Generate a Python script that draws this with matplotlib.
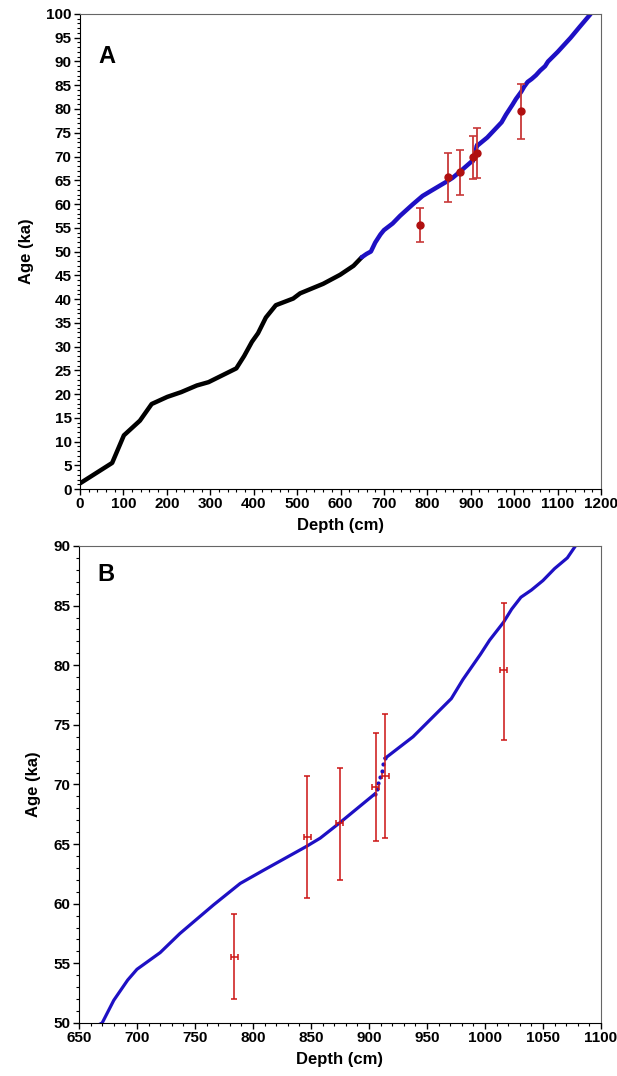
import numpy
import matplotlib
matplotlib.use('Agg')
import matplotlib.pyplot as plt
from matplotlib.ticker import MultipleLocator

plt.rcParams['font.family'] = ['Liberation Sans', 'DejaVu Sans']
plt.rcParams['font.weight'] = 'bold'

# 年龄-深度模型，上段（黑色）
depth_upper = [0, 74, 101, 138, 165, 201, 233, 269, 296, 360, 378, 396, 410,
               428, 451, 491, 507, 560, 599, 630, 649]
age_upper = [1.2, 5.5, 11.3, 14.4, 17.9, 19.4, 20.4, 21.8, 22.5, 25.4, 28.0,
             31.0, 32.8, 36.1, 38.7, 40.1, 41.2, 43.2, 45.1, 47.0, 48.8]

# 下段（蓝色），905-914 cm 为点线过渡
depth_lower = [649, 660, 670, 680, 692, 700, 720, 737, 766, 789, 809, 846,
               858, 875, 905]
age_lower = [48.8, 49.5, 50.0, 51.9, 53.6, 54.5, 55.9, 57.5, 59.9, 61.7, 62.8,
             64.8, 65.5, 66.8, 69.2]
depth_gap = [905, 906.5, 908, 909.5, 911, 912.5, 914]
age_gap = [69.2, 69.6, 70.1, 70.6, 71.1, 71.7, 72.2]
depth_top = [914, 938, 971, 981, 996, 1004, 1016, 1023, 1031, 1040, 1050,
             1060, 1071, 1078, 1100, 1130, 1150, 1176]
age_top = [72.2, 74.0, 77.2, 78.8, 80.9, 82.1, 83.6, 84.7, 85.7, 86.3, 87.1,
           88.1, 89.0, 90.0, 92.0, 95.0, 97.2, 100.0]

# 测年点
date_depth = [784, 847, 875, 906, 914, 1016]
date_age = [55.5, 65.6, 66.8, 69.8, 70.7, 79.6]
age_err_lo = [3.5, 5.1, 4.8, 4.5, 5.2, 5.9]
age_err_hi = [3.6, 5.1, 4.6, 4.5, 5.2, 5.6]
depth_err = [3, 3, 3, 3, 3, 3]

blue = '#1e10c4'
red = '#c01818'


def style_axis(ax, xlim, ylim, xmaj, xmin, ymaj, ymin):
    ax.set_xlim(*xlim)
    ax.set_ylim(*ylim)
    ax.xaxis.set_major_locator(MultipleLocator(xmaj))
    ax.xaxis.set_minor_locator(MultipleLocator(xmin))
    ax.yaxis.set_major_locator(MultipleLocator(ymaj))
    ax.yaxis.set_minor_locator(MultipleLocator(ymin))
    ax.tick_params(which='major', direction='out', length=4, width=1,
                   labelsize=11, pad=2)
    ax.tick_params(which='minor', direction='out', length=2.5, width=0.8)
    for lab in ax.get_xticklabels() + ax.get_yticklabels():
        lab.set_fontweight('bold')
    for s in ['top', 'right']:
        ax.spines[s].set_color('#666666')
    for s in ['left', 'bottom']:
        ax.spines[s].set_color('black')
    ax.set_xlabel('Depth (cm)', fontsize=12, fontweight='bold', labelpad=5)
    ax.set_ylabel('Age (ka)', fontsize=12, fontweight='bold', labelpad=9)


fig = plt.figure(figsize=(6.17, 10.76), dpi=100)

# 面板 A
axA = fig.add_axes([0.1297, 0.5455, 0.8444, 0.4415])
axA.plot(depth_upper, age_upper, color='black', lw=3.2, solid_capstyle='round')
axA.plot(depth_lower, age_lower, color=blue, lw=3.2, solid_capstyle='round')
axA.plot(depth_gap, age_gap, color=blue, lw=3.2)
axA.plot(depth_top, age_top, color=blue, lw=3.2, solid_capstyle='round')
axA.errorbar(date_depth, date_age, yerr=[age_err_lo, age_err_hi], fmt='o',
             color='#b01010', ecolor='#c83838', elinewidth=1.3, capsize=3,
             capthick=1.2, markersize=5, zorder=5)
style_axis(axA, (0, 1200), (0, 100), 100, 20, 5, 1)
axA.text(0.035, 0.935, 'A', transform=axA.transAxes, fontsize=17,
         fontweight='bold', va='top', ha='left')

# 面板 B
axB = fig.add_axes([0.128, 0.0493, 0.846, 0.4433])
axB.plot(depth_lower, age_lower, color=blue, lw=2.3)
axB.plot(depth_gap, age_gap, color=blue, lw=0, marker='o', markersize=2)
axB.plot(depth_top, age_top, color=blue, lw=2.3)
axB.errorbar(date_depth, date_age, yerr=[age_err_lo, age_err_hi],
             xerr=depth_err, fmt='none', ecolor='#cc1414', elinewidth=1.1,
             capsize=2.5, capthick=1.1, zorder=5)
style_axis(axB, (650, 1100), (50, 90), 50, 10, 5, 1)
axB.text(0.035, 0.965, 'B', transform=axB.transAxes, fontsize=17,
         fontweight='bold', va='top', ha='left')

plt.savefig('out.png', dpi=100)
